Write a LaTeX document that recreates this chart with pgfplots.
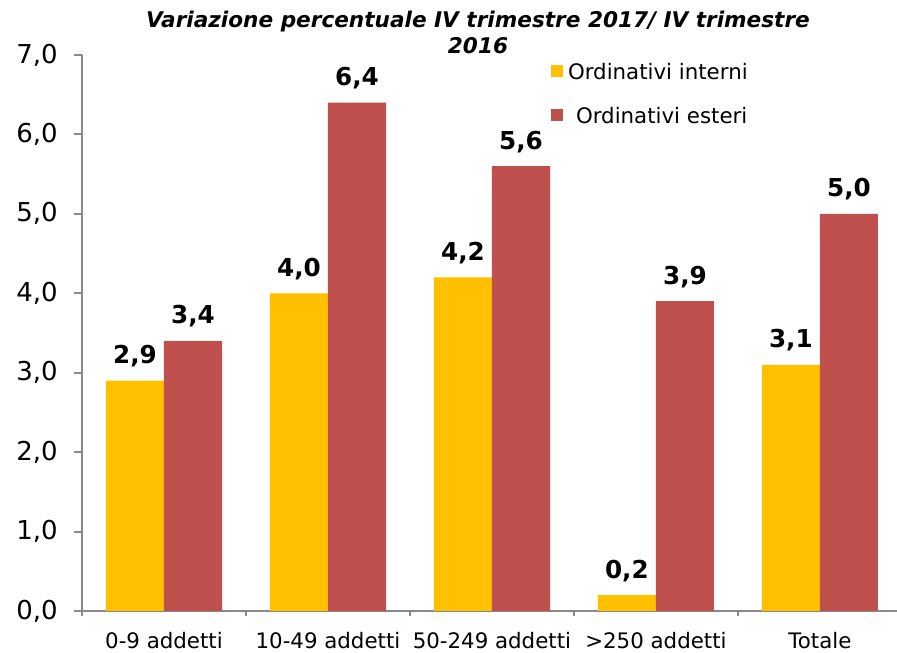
\documentclass[border=0pt]{standalone}
\usepackage{fontspec}
\setmainfont{DejaVu Sans}
\usepackage{pgfplots}
\pgfplotsset{compat=1.18}
\definecolor{cYel}{HTML}{FFC000}
\definecolor{cRed}{HTML}{C0504D}
\definecolor{cAx}{HTML}{898989}
\begin{document}
\begin{tikzpicture}
\useasboundingbox (-61.5pt,-31.5pt) rectangle (611.25pt,458.25pt);
\begin{axis}[
  at={(0pt,0pt)}, anchor=south west,
  scale only axis, width=611.25pt, height=417pt,
  ybar=0pt, bar width=0.354,
  xmin=-0.5, xmax=4.47, ymin=0, ymax=7,
  axis x line*=bottom, axis y line*=left,
  axis line style={cAx, line width=1.5pt, -},
  xtick={0,1,2,3,4},
  xticklabels={0-9 addetti,10-49 addetti,50-249 addetti,>250 addetti,Totale},
  minor xtick={-0.5,0.5,1.5,2.5,3.5},
  ytick={0,1,...,7},
  tick align=outside,
  tick style={cAx, line width=1.5pt},
  major tick length=6pt, minor tick length=3.75pt,
  major x tick style={draw=none},
  /pgf/number format/assume math mode=true,
  yticklabel style={font=\fontsize{19.5}{22}\selectfont, anchor=east, inner sep=0pt, xshift=-12pt,
    /pgf/number format/.cd, fixed, fixed zerofill, precision=1, use comma},
  xticklabel style={font=\fontsize{16}{19}\selectfont, anchor=base, inner sep=0pt, yshift=-22.5pt},
  nodes near coords,
  nodes near coords style={font=\bfseries\fontsize{18.5}{21}\selectfont, anchor=base, yshift=12.75pt, inner sep=0pt,
    /pgf/number format/.cd, fixed, fixed zerofill, precision=1, use comma},
  legend style={at={(0.5755,0.9856)}, anchor=north west, draw=none, fill=none,
    inner sep=0pt, outer sep=0pt, font=\fontsize{16}{19}\selectfont,
    nodes={inner sep=0pt, text height=12pt, text depth=4pt}, row sep=17pt},
  legend cell align=left,
  legend image code/.code={\fill[#1] (0pt,-2.75pt) rectangle (9pt,6.25pt);},
  clip=false,
]
\addplot[fill=cYel, draw=none] coordinates {(0,2.9) (1,4.0) (2,4.2) (3,0.2) (4,3.1)};
\addplot[fill=cRed, draw=none] coordinates {(0,3.4) (1,6.4) (2,5.6) (3,3.9) (4,5.0)};
\legend{\hspace{3.75pt}Ordinativi interni,\hspace{9.75pt}Ordinativi esteri}
\end{axis}
\node[anchor=base, font=\bfseries\itshape\fontsize{16.2}{18}\selectfont] at (297pt,437.25pt) {Variazione percentuale IV trimestre 2017/ IV trimestre};
\node[anchor=base, font=\bfseries\itshape\fontsize{16.2}{18}\selectfont] at (297pt,417.75pt) {2016};
\end{tikzpicture}
\end{document}
